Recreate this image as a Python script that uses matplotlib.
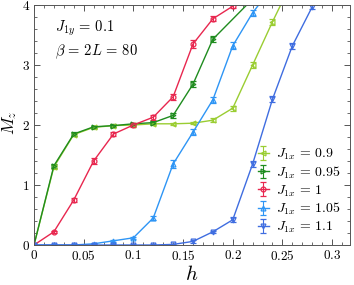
import matplotlib
matplotlib.use("Agg")
from matplotlib import pyplot as plt
from matplotlib.ticker import MultipleLocator, FuncFormatter

plt.rcParams['mathtext.fontset'] = 'cm'
plt.rcParams['font.family'] = 'serif'
plt.rcParams['font.serif'] = ['DejaVu Serif']

######################## data ########################
h_09 = [0, 0.02, 0.04, 0.06, 0.08, 0.10, 0.12, 0.14, 0.16, 0.18, 0.20, 0.22, 0.24, 0.26]
m_09 = [0, 1.30, 1.84, 1.96, 1.99, 2.00, 2.02, 2.02, 2.03, 2.08, 2.28, 3.00, 3.72, 4.40]
e_09 = [0, 0.03, 0.03, 0.02, 0.02, 0.02, 0.02, 0.02, 0.02, 0.03, 0.04, 0.05, 0.05, 0.05]

h_095 = [0, 0.02, 0.04, 0.06, 0.08, 0.10, 0.12, 0.14, 0.16, 0.18, 0.22]
m_095 = [0, 1.32, 1.85, 1.97, 1.99, 2.02, 2.04, 2.16, 2.68, 3.43, 4.10]
e_095 = [0, 0.03, 0.03, 0.02, 0.02, 0.02, 0.03, 0.04, 0.05, 0.05, 0.05]

h_1 = [0, 0.02, 0.04, 0.06, 0.08, 0.10, 0.12, 0.14, 0.16, 0.18, 0.20]
m_1 = [0, 0.22, 0.75, 1.40, 1.85, 2.00, 2.13, 2.47, 3.35, 3.77, 3.98]
e_1 = [0, 0.02, 0.04, 0.05, 0.04, 0.03, 0.04, 0.05, 0.06, 0.04, 0.03]

h_105 = [0, 0.02, 0.04, 0.06, 0.08, 0.10, 0.12, 0.14, 0.16, 0.18, 0.20, 0.22, 0.24]
m_105 = [0, 0.00, 0.00, 0.02, 0.07, 0.12, 0.45, 1.35, 1.88, 2.42, 3.32, 3.87, 4.30]
e_105 = [0, 0.01, 0.01, 0.01, 0.02, 0.02, 0.04, 0.06, 0.05, 0.05, 0.06, 0.05, 0.05]

h_11 = [0, 0.02, 0.04, 0.06, 0.08, 0.10, 0.12, 0.14, 0.16, 0.18, 0.20, 0.22, 0.24, 0.26, 0.28]
m_11 = [0, 0.00, 0.00, 0.00, 0.00, 0.00, 0.00, 0.01, 0.06, 0.22, 0.42, 1.35, 2.43, 3.32, 3.97]
e_11 = [0, 0.01, 0.01, 0.01, 0.01, 0.01, 0.01, 0.01, 0.02, 0.02, 0.04, 0.05, 0.05, 0.05, 0.04]

labels = [r'$J_{1x}\,=\,0.9$', r'$J_{1x}\,=\,0.95$', r'$J_{1x}\,=\,1$',
          r'$J_{1x}\,=\,1.05$', r'$J_{1x}\,=\,1.1$']
###########################################################################

series = [(h_09, m_09, e_09, '#9acd32', '<'),
          (h_095, m_095, e_095, '#1f8c1f', '>'),
          (h_1, m_1, e_1, '#e8274f', 'o'),
          (h_105, m_105, e_105, '#2e95f5', '^'),
          (h_11, m_11, e_11, '#3f6de0', 'v')]

fig = plt.figure(figsize=(3.54, 2.85), dpi=100)
ax = fig.add_axes([34/354, 1-245/285, 316/354, 240/285])

for (hh, mm, ee, col, mk), lab in zip(series, labels):
    ax.errorbar(hh, mm, yerr=ee, color=col, marker=mk, markersize=3.5,
                markerfacecolor='none', markeredgewidth=0.9, linewidth=1.0,
                elinewidth=0.8, capsize=2, capthick=0.8, label=lab)

ax.set_xlim(0, 0.318)
ax.set_ylim(0, 4)
ax.xaxis.set_major_locator(MultipleLocator(0.05))
ax.xaxis.set_minor_locator(MultipleLocator(0.01))
ax.yaxis.set_major_locator(MultipleLocator(1))
ax.yaxis.set_minor_locator(MultipleLocator(0.2))
ax.xaxis.set_major_formatter(FuncFormatter(lambda v, p: r'$%g$' % round(v, 3)))
ax.yaxis.set_major_formatter(FuncFormatter(lambda v, p: r'$%g$' % round(v, 3)))
ax.tick_params(which='both', direction='in', top=True, right=True, labelsize=9.5, color='#555555')
ax.tick_params(which='major', length=4.5, width=0.7, pad=3)
ax.tick_params(which='minor', length=2.5, width=0.6)
for s in ax.spines.values():
    s.set_linewidth(0.7)
    s.set_color('#555555')

ax.set_xlabel(r'$h$', fontsize=15, labelpad=1)
# y label placed by hand so it stays inside the small canvas
fig.text(10/354, 1-123/285, r'$M_z$', fontsize=12.5, rotation=90, ha='center', va='center')

ax.text(0.066, 0.904, r'$J_{1y}\,=\,0.1$', transform=ax.transAxes, fontsize=10.5, va='center')
ax.text(0.066, 0.804, r'$\beta\,=\,2L\,=\,80$', transform=ax.transAxes, fontsize=10.5, va='center')

ax.legend(loc='lower right', bbox_to_anchor=(1.0, 0.0), frameon=False, fontsize=10,
          handlelength=0.8, handletextpad=0.5, labelspacing=0.18, borderpad=0.2)

plt.savefig('out.png', dpi=100)
